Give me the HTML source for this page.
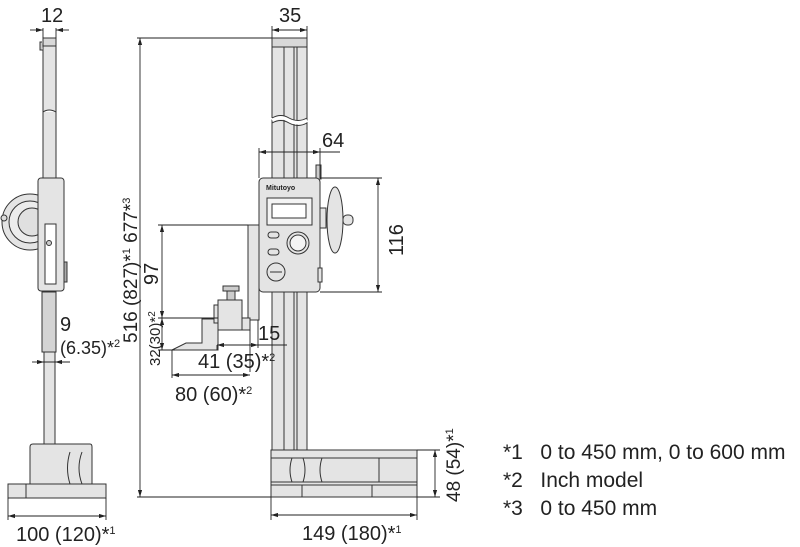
<!DOCTYPE html>
<html><head><style>
html,body{margin:0;padding:0;background:#fff;}
svg{display:block;}
text{font-family:"Liberation Sans",sans-serif;fill:#222;}
</style></head><body>
<svg width="800" height="547" viewBox="0 0 800 547" xmlns="http://www.w3.org/2000/svg">
<defs>
<marker id="a" viewBox="0 0 10 6" refX="10" refY="3" markerWidth="8" markerHeight="5" orient="auto-start-reverse"><path d="M0,0 L10,3 L0,6 z" fill="#222"/></marker>
</defs>
<g stroke="#333" stroke-width="1" fill="#e4e4e4">
<rect x="43" y="38" width="13" height="140"/>
<rect x="43" y="38" width="13" height="8" fill="#d8d8d8"/>
<path d="M42,42 l-2,0 l0,8 l3,0" fill="#ccc"/>
<path d="M43,112 q6,-4 13,0" fill="#fff"/>
<circle cx="30" cy="222" r="28"/>
<circle cx="30" cy="222" r="21" fill="#ececec"/>
<circle cx="32" cy="222" r="14" fill="#e0e0e0"/>
<circle cx="4" cy="218" r="3" fill="#ddd"/>
<rect x="38" y="178" width="26" height="113" rx="3"/>
<rect x="45" y="224" width="11" height="60" fill="#fff"/>
<circle cx="49" cy="243" r="2.5" fill="#ccc"/>
<rect x="64" y="262" width="3" height="20" fill="#aaa"/>
<rect x="42" y="292" width="14" height="60" fill="#d4d4d4"/>
<rect x="44" y="352" width="11" height="98"/>
<path d="M30,450 l0,-3 q0,-3 3,-3 h57 q2,0 2,3 v37 h-62 z"/>
<path d="M70,452 q-5,16 0,32 M82,452 q-6,16 0,32" fill="none"/>
<rect x="8" y="484" width="98" height="14"/>
<line x1="26" y1="484" x2="26" y2="498"/>
<rect x="272" y="38" width="35" height="412"/>
<rect x="272" y="38" width="35" height="9" fill="#d8d8d8"/>
<line x1="284" y1="47" x2="284" y2="450"/>
<line x1="294" y1="47" x2="294" y2="450"/>
<line x1="297" y1="47" x2="297" y2="450"/>
<path d="M272,120 q9,-5 17,0 q9,5 18,0" fill="none" stroke-width="4" stroke="#fff"/>
<path d="M272,118 q9,-5 17,0 q9,5 18,0 M272,123 q9,-5 17,0 q9,5 18,0" fill="none"/>
<rect x="316" y="165" width="5" height="14" fill="#ccc"/>
<rect x="248" y="225" width="11" height="95"/>
<path d="M172,350 l14,-7 h16 v-24 h16 v31 z"/>
<rect x="218" y="300" width="24" height="30"/>
<rect x="214" y="305" width="4" height="18"/>
<rect x="227" y="290" width="8" height="10" fill="#ccc"/>
<rect x="223" y="286" width="16" height="5" fill="#ccc"/>
<rect x="242" y="318" width="8" height="12"/>
<rect x="259" y="178" width="61" height="114" rx="4"/>
<rect x="267" y="198" width="45" height="27" fill="#f4f4f4"/>
<rect x="272" y="204" width="34" height="14" fill="#fff"/>
<rect x="268" y="232" width="11" height="6" rx="3"/>
<rect x="268" y="249" width="11" height="6" rx="3"/>
<circle cx="298" cy="243" r="11"/>
<circle cx="298" cy="243" r="8" fill="#f4f4f4"/>
<circle cx="276" cy="272" r="9"/>
<line x1="270" y1="272" x2="282" y2="272"/>
<rect x="320" y="208" width="6" height="20"/>
<rect x="318" y="268" width="4" height="14"/>
<ellipse cx="335" cy="220" rx="8" ry="33"/>
<rect x="343" y="215" width="10" height="10" rx="4"/>
<rect x="271" y="450" width="146" height="35"/>
<line x1="271" y1="458" x2="417" y2="458"/>
<line x1="271" y1="482" x2="417" y2="482"/>
<path d="M292,458 q-4,12 0,24 M303,458 q4,12 0,24 M322,458 q-4,12 0,24" fill="none"/>
<line x1="379" y1="458" x2="379" y2="482"/>
<rect x="271" y="485" width="146" height="12"/>
<line x1="302" y1="485" x2="302" y2="497"/>
<line x1="372" y1="485" x2="372" y2="497"/>
</g>
<g fill="#333">
<text x="266" y="190" font-weight="bold" font-size="7">Mitutoyo</text>
</g>
<g stroke="#222" stroke-width="0.9" fill="none">
<line x1="30" y1="30" x2="43" y2="30" marker-end="url(#a)"/>
<line x1="69" y1="30" x2="56" y2="30" marker-end="url(#a)"/>
<line x1="43" y1="28" x2="43" y2="38"/><line x1="56" y1="28" x2="56" y2="38"/>
<line x1="272" y1="30" x2="307" y2="30" marker-start="url(#a)" marker-end="url(#a)"/>
<line x1="272" y1="26" x2="272" y2="38"/><line x1="307" y1="26" x2="307" y2="38"/>
<line x1="137" y1="38" x2="272" y2="38"/>
<line x1="137" y1="497" x2="271" y2="497"/>
<line x1="140" y1="38" x2="140" y2="497" marker-start="url(#a)" marker-end="url(#a)"/>
<line x1="259" y1="152" x2="320" y2="152" marker-start="url(#a)" marker-end="url(#a)"/>
<line x1="320" y1="152" x2="340" y2="152"/>
<line x1="259" y1="148" x2="259" y2="178"/><line x1="320" y1="148" x2="320" y2="178"/>
<line x1="320" y1="178" x2="382" y2="178"/><line x1="320" y1="292" x2="382" y2="292"/>
<line x1="378" y1="178" x2="378" y2="292" marker-start="url(#a)" marker-end="url(#a)"/>
<line x1="158" y1="225" x2="248" y2="225"/>
<line x1="162" y1="225" x2="162" y2="318" marker-start="url(#a)" marker-end="url(#a)"/>
<line x1="158" y1="318" x2="218" y2="318"/>
<line x1="162" y1="318" x2="162" y2="350" marker-start="url(#a)" marker-end="url(#a)"/>
<line x1="158" y1="350" x2="175" y2="350"/>
<line x1="217" y1="345" x2="217" y2="350"/>
<line x1="217" y1="345" x2="258" y2="345" marker-start="url(#a)" marker-end="url(#a)"/>
<line x1="258" y1="345" x2="287" y2="345"/>
<line x1="258" y1="320" x2="258" y2="348"/>
<line x1="250" y1="330" x2="250" y2="372"/>
<line x1="172" y1="350" x2="172" y2="378"/>
<line x1="172" y1="375" x2="250" y2="375" marker-start="url(#a)" marker-end="url(#a)"/>
<line x1="42" y1="362" x2="70" y2="362"/>
<line x1="32" y1="362" x2="44" y2="362" marker-end="url(#a)"/>
<line x1="67" y1="362" x2="55" y2="362" marker-end="url(#a)"/>
<line x1="8" y1="498" x2="8" y2="520"/><line x1="106" y1="498" x2="106" y2="520"/>
<line x1="8" y1="516" x2="106" y2="516" marker-start="url(#a)" marker-end="url(#a)"/>
<line x1="271" y1="497" x2="271" y2="520"/><line x1="417" y1="497" x2="417" y2="520"/>
<line x1="271" y1="515" x2="417" y2="515" marker-start="url(#a)" marker-end="url(#a)"/>
<line x1="417" y1="450" x2="440" y2="450"/><line x1="417" y1="497" x2="440" y2="497"/>
<line x1="435" y1="450" x2="435" y2="497" marker-start="url(#a)" marker-end="url(#a)"/>
</g>
<g font-size="20">
<text x="41" y="22">12</text>
<text x="279" y="22">35</text>
<text x="322" y="147">64</text>
<text transform="translate(403,256) rotate(-90)">116</text>
<text transform="translate(158,285) rotate(-90)">97</text>
<text transform="translate(137,343) rotate(-90)" font-size="19">516 (827)*<tspan font-size="11" dy="-7">1</tspan><tspan dy="7"> 677*</tspan><tspan font-size="11" dy="-7">3</tspan></text>
<text transform="translate(160,366) rotate(-90)" font-size="15">32(30)*<tspan font-size="10" dy="-5">2</tspan></text>
<text x="258" y="340">15</text>
<text x="198" y="368">41 (35)*<tspan font-size="11" dy="-7">2</tspan></text>
<text x="175" y="401">80 (60)*<tspan font-size="11" dy="-7">2</tspan></text>
<text x="60" y="331">9</text>
<text x="60" y="354" font-size="18">(6.35)*<tspan font-size="11" dy="-7">2</tspan></text>
<text x="16" y="541">100 (120)*<tspan font-size="11" dy="-7">1</tspan></text>
<text x="302" y="540">149 (180)*<tspan font-size="11" dy="-7">1</tspan></text>
<text transform="translate(460,502) rotate(-90)" font-size="19">48 (54)*<tspan font-size="11" dy="-7">1</tspan></text>
<text x="503" y="459" font-size="21">*1&#160;&#160;&#160;0 to 450 mm, 0 to 600 mm</text>
<text x="503" y="487" font-size="21">*2&#160;&#160;&#160;Inch model</text>
<text x="503" y="515" font-size="21">*3&#160;&#160;&#160;0 to 450 mm</text>
</g>
</svg>
</body></html>
